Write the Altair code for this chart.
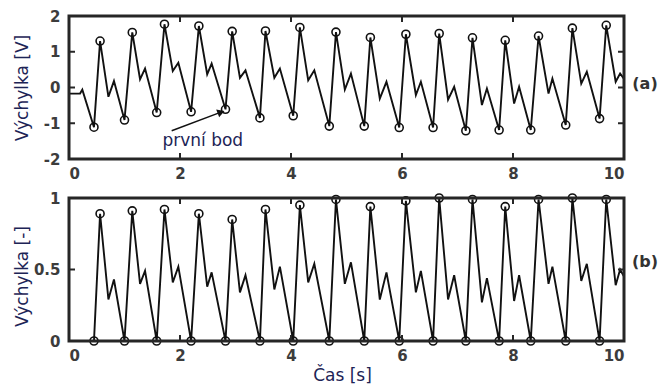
import math
import altair as alt
import pandas as pd

# --- key points of each pulse: trough, systolic peak, dicrotic notch, diastolic bump ---
t_trough = [0.45, 1.00, 1.58, 2.20, 2.82, 3.44, 4.04, 4.69, 5.32, 5.95, 6.56, 7.15, 7.75, 8.32, 8.95, 9.56]
t_peak = [0.56, 1.14, 1.72, 2.34, 2.94, 3.54, 4.16, 4.81, 5.43, 6.07, 6.67, 7.27, 7.86, 8.46, 9.07, 9.68]
t_notch = [0.71, 1.28, 1.87, 2.49, 3.08, 3.70, 4.31, 4.97, 5.60, 6.25, 6.83, 7.44, 8.02, 8.64, 9.23, 9.85]
t_bump = [0.81, 1.37, 1.97, 2.57, 3.18, 3.80, 4.42, 5.08, 5.72, 6.34, 6.94, 7.53, 8.11, 8.71, 9.33, 9.93]

# (a) raw signal [V]
a_trough = [-1.11, -0.91, -0.70, -0.68, -0.61, -0.85, -0.79, -1.08, -1.08, -1.12, -1.12, -1.21, -1.19, -1.19, -1.05, -0.87]
a_peak = [1.30, 1.54, 1.77, 1.72, 1.57, 1.58, 1.68, 1.55, 1.40, 1.49, 1.51, 1.39, 1.32, 1.44, 1.66, 1.74]
a_notch = [-0.26, 0.23, 0.46, 0.37, 0.27, 0.27, 0.20, -0.06, -0.31, -0.21, -0.34, -0.49, -0.45, -0.17, 0.11, 0.16]
a_bump = [0.18, 0.53, 0.69, 0.67, 0.48, 0.53, 0.48, 0.39, 0.16, 0.16, 0.02, -0.03, 0.02, 0.25, 0.44, 0.39]
a_lead_t = [0.0, 0.20, 0.24]
a_lead_v = [-0.17, -0.17, -0.06]
a_tail_t = [10.0]
a_tail_v = [0.24]

# (b) normalised signal [-]
b_trough = [0.0] * 16
b_peak = [0.89, 0.91, 0.92, 0.89, 0.85, 0.92, 0.95, 0.99, 0.94, 0.98, 1.00, 0.99, 0.94, 0.99, 1.00, 0.99]
b_notch = [0.29, 0.40, 0.41, 0.38, 0.34, 0.36, 0.41, 0.40, 0.29, 0.34, 0.29, 0.27, 0.28, 0.40, 0.42, 0.39]
b_bump = [0.43, 0.49, 0.52, 0.48, 0.46, 0.52, 0.54, 0.55, 0.48, 0.49, 0.46, 0.44, 0.46, 0.52, 0.54, 0.50]
b_tail_t = [10.0]
b_tail_v = [0.45]

x_ticks = [0, 2, 4, 6, 8, 10]

W, H = 555, 143
LEFT, TOP, GAP = 69, 16, 39
FULL_W, FULL_H = 661, 385
FONT = "DejaVu Sans"
TITLE_COLOR = "#1d2456"
INK = "#111111"
FRAME = "#262626"


def wave(lead_t, lead_v, tr, pk, nt, bp, tail_t, tail_v):
    ts, vs = list(lead_t), list(lead_v)
    for i in range(len(t_trough)):
        ts += [t_trough[i], t_peak[i], t_notch[i], t_bump[i]]
        vs += [tr[i], pk[i], nt[i], bp[i]]
    ts += tail_t
    vs += tail_v
    return pd.DataFrame({"t": ts, "v": vs, "o": range(len(ts))})


def markers(tr, pk):
    return pd.DataFrame({"t": t_trough + t_peak, "v": list(tr) + list(pk)})


def frame_box(y_top, y_bottom):
    # invisible box that pins the overall canvas extent
    return alt.Chart(pd.DataFrame({"k": [0]})).mark_rect(opacity=0, clip=False).encode(
        x=alt.value(-LEFT), x2=alt.value(FULL_W - LEFT),
        y=alt.value(y_top), y2=alt.value(y_bottom))


def border():
    # thick box round the plot area
    return alt.Chart(pd.DataFrame({"k": [0]})).mark_rect(
        fill=None, fillOpacity=0, stroke=FRAME, strokeWidth=3, clip=False
    ).encode(x=alt.value(0), x2=alt.value(W), y=alt.value(0), y2=alt.value(H))


def panel(line_df, pts_df, ydom, yvals, ytitle, title_y, tag, tag_y, box, xtitle=None, extra=None):
    xscale = alt.Scale(domain=[0, 10], nice=False, zero=False)
    yscale = alt.Scale(domain=ydom, nice=False, zero=False)
    label_style = dict(labelFontSize=15, labelFont=FONT, labelColor="#3c3c3c",
                       labelFontWeight="bold", labelOverlap=False, labelBound=False)
    xaxis_kw = dict(values=x_ticks, ticks=False, domain=False, grid=False, labelPadding=7, **label_style)
    if xtitle:
        xaxis_kw.update(title=xtitle, titleX=273, titleY=34, titleBaseline="middle",
                        titleFont=FONT, titleFontSize=17, titleFontWeight="normal",
                        titleColor=TITLE_COLOR)
    else:
        xaxis_kw.update(title=None)
    xaxis = alt.Axis(**xaxis_kw)
    yaxis = alt.Axis(values=yvals, ticks=False, domain=False, grid=False, title=ytitle,
                     labelPadding=9, **label_style,
                     labelExpr="datum.value < 0 ? '-' + abs(datum.value) : '' + datum.value",
                     titleX=-47, titleY=title_y, titleBaseline="middle", titleAngle=270,
                     titleFont=FONT, titleFontSize=17, titleFontWeight="normal",
                     titleColor=TITLE_COLOR)

    def X():
        return alt.X("t:Q", scale=xscale, axis=xaxis)

    def Y():
        return alt.Y("v:Q", scale=yscale, axis=yaxis)

    line = alt.Chart(line_df).mark_line(color=INK, strokeWidth=1.9, clip=True).encode(
        x=X(), y=Y(), order="o:Q")
    pts = alt.Chart(pts_df).mark_point(shape="circle", size=64, filled=False,
                                       color=INK, strokeWidth=1.6, opacity=1).encode(x=X(), y=Y())

    # inward ticks on all four sides
    xt = pd.DataFrame({"t": x_ticks[1:-1]})
    yt = pd.DataFrame({"v": [v for v in yvals if v not in ydom]})
    tick_style = dict(color=FRAME, strokeWidth=2, opacity=1)
    xb = alt.Chart(xt).mark_rule(**tick_style).encode(x=X(), y=alt.value(H), y2=alt.value(H - 6))
    xtp = alt.Chart(xt).mark_rule(**tick_style).encode(x=X(), y=alt.value(0), y2=alt.value(6))
    yl = alt.Chart(yt).mark_rule(**tick_style).encode(y=Y(), x=alt.value(0), x2=alt.value(6))
    yr = alt.Chart(yt).mark_rule(**tick_style).encode(y=Y(), x=alt.value(W - 6), x2=alt.value(W))

    label = alt.Chart(pd.DataFrame({"s": [tag]})).mark_text(
        font=FONT, fontSize=16, fontWeight="bold", color="#333333", clip=False
    ).encode(text="s:N", x=alt.value(576), y=alt.value(tag_y))

    layers = [frame_box(*box), line, pts, xb, xtp, yl, yr, border(), label]
    if extra:
        layers += [e(X, Y) for e in extra]
    return alt.layer(*layers).properties(width=W, height=H)


# annotation pointing at the first detected point
note_text = "první bod"
note_pos = (2.41, -1.49)
arrow_from = (1.85, -1.21)
arrow_to = (2.74, -0.69)


def note_layers():
    def text(X, Y):
        return alt.Chart(pd.DataFrame({"t": [note_pos[0]], "v": [note_pos[1]], "s": [note_text]})).mark_text(
            font=FONT, fontSize=17, color=TITLE_COLOR, baseline="middle"
        ).encode(x=X(), y=Y(), text="s:N")

    def shaft(X, Y):
        return alt.Chart(pd.DataFrame({"t": [arrow_from[0]], "v": [arrow_from[1]],
                                       "t2": [arrow_to[0]], "v2": [arrow_to[1]]})).mark_rule(
            color=INK, strokeWidth=1.5, opacity=1
        ).encode(x=X(), y=Y(), x2="t2:Q", y2="v2:Q")

    def head(X, Y):
        dx = (arrow_to[0] - arrow_from[0]) * W / 10
        dy = -(arrow_to[1] - arrow_from[1]) * H / 4
        ang = math.degrees(math.atan2(dy, dx)) % 360
        return alt.Chart(pd.DataFrame({"t": [arrow_to[0]], "v": [arrow_to[1]]})).mark_point(
            shape="triangle-right", size=70, filled=True, color=INK, opacity=1, angle=ang
        ).encode(x=X(), y=Y())

    return [text, shaft, head]


top = panel(
    wave(a_lead_t, a_lead_v, a_trough, a_peak, a_notch, a_bump, a_tail_t, a_tail_v),
    markers(a_trough, a_peak),
    [-2, 2], [-2, -1, 0, 1, 2], "Výchylka [V]", 71.5, "(a)", 68,
    box=(-TOP, 0),
    extra=note_layers(),
)
bottom = panel(
    wave([], [], b_trough, b_peak, b_notch, b_bump, b_tail_t, b_tail_v),
    markers(b_trough, b_peak),
    [0, 1], [0, 0.5, 1], "Výchylka [-]", 78, "(b)", 64,
    box=(0, FULL_H - (TOP + H + GAP)),
    xtitle="Čas [s]",
)

chart = alt.vconcat(top, bottom, spacing=GAP, bounds="flush").properties(
    padding=0,
).configure(
    background="white"
).configure_view(
    stroke=None, strokeWidth=0
)

chart.save("out.html", embed_options={"renderer": "svg", "actions": False})
